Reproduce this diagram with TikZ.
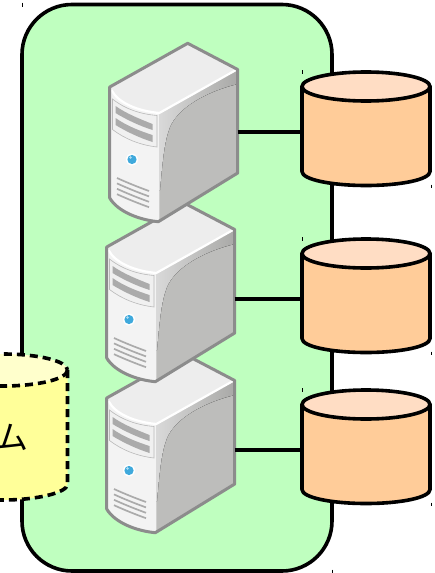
\documentclass[tikz,border=0pt]{standalone}
\usepackage{fontspec}
\newfontfamily\jpfont{Noto Sans CJK JP}
\definecolor{boxgreen}{HTML}{BFFFBF}
\definecolor{dbbody}{HTML}{FFCC99}
\definecolor{dbtop}{HTML}{FFDDC4}
\definecolor{ybody}{HTML}{FFFF99}
\definecolor{ytop}{HTML}{FFFFCC}
\definecolor{srvline}{HTML}{8C8C8C}
\definecolor{srvtop}{HTML}{EDEDED}
\definecolor{srvfront}{HTML}{F3F3F3}
\definecolor{srvside}{HTML}{BDBDBB}
\definecolor{srvband}{HTML}{A9A9A7}
\definecolor{srvbar}{HTML}{ABABAB}
\definecolor{srvpanel}{HTML}{F0F0F0}
\definecolor{led}{HTML}{3FA9DC}
\tikzset{
  x=1pt,y=-1pt,
  heavy/.style={line width=3.6pt,draw=black},
  link/.style={line width=3.4pt,draw=black},
  tinytick/.style={line width=0.7pt,draw=black},
  storebody/.style={heavy,fill=dbbody,line join=round},
  storetop/.style={heavy,fill=dbtop},
  pics/store/.style={code={
    \coordinate (-port) at (302,132);
    \path[storebody] (302,86.5) -- (302,171.5) .. controls (302,179.5) and (331,185.5) .. (366,185.5)
      .. controls (401,185.5) and (430,179.5) .. (430,171.5) -- (430,86.5) -- cycle;
    \path[storetop] (366,86.5) ellipse [x radius=64,y radius=14.5];
    \draw[tinytick] (302,70) -- (302,73.5);
    \draw[tinytick] (431,184.5) -- (431,188);
  }},
  pics/server/.style={code={
    \coordinate (-port) at (237.7,132);
    % whole silhouette
    \fill[srvfront] (109.7,88) -- (187.7,43.3) -- (237.7,70) -- (237.7,173) -- (158.3,221.7)
      .. controls (140,220) and (118,212) .. (109.7,198) -- cycle;
    % side
    \fill[srvside] (159.3,113) -- (237.7,69) -- (237.7,173) -- (159.3,221) -- cycle;
    \fill[left color=gray!30,right color=srvband] (159.3,113) -- (237.7,69) -- (237.7,84)
      .. controls (205,92) and (178,108) .. (170,127) .. controls (165,140) and (163,155) .. (160,190)
      -- (159.3,190) -- cycle;
    % top
    \fill[srvtop] (109.7,86) -- (187.7,43.3) -- (237.7,69) -- (159.3,113)
      .. controls (138,111) and (118,103) .. (109.7,86) -- cycle;
    % highlight
    \draw[white,line width=2.2pt] (111.5,90) .. controls (118,103) and (138,111) .. (159.3,113) -- (236,70);
    % bezel and slots
    \fill[srvpanel,draw=gray!55,line width=.6pt] (112.5,99) .. controls (125,109) and (140,114) .. (157,115.5)
      -- (157,147) .. controls (140,145) and (125,139) .. (112.5,129.5) -- cycle;
    \fill[srvbar] (115.5,106) .. controls (127,114) and (140,119) .. (152.5,124) -- (152.5,130) .. controls (140,126) and (127,120) .. (115.5,113) -- cycle;
    \fill[srvbar] (115.5,118) .. controls (127,126) and (140,131) .. (152.5,135) -- (152.5,142) .. controls (140,138) and (127,132) .. (115.5,125) -- cycle;
    % led
    \fill[white] (132,159.5) circle [radius=6];
    \fill[led] (132,159.5) circle [radius=4.6];
    \fill[white!60!led] (130.5,157.5) circle [radius=1.3];
    % vent
    \foreach \yy in {0,5.4,10.8,16.2} {
      \draw[srvbar,line width=1.7pt] (117,178+\yy) .. controls (128,183+\yy) and (138,187+\yy) .. (149,191+\yy);
    }
    % outline
    \draw[srvline,line width=3pt,line join=round] (109.7,87) -- (187.7,43.3) -- (237.7,69.5) -- (237.7,173) -- (158.3,221.7)
      .. controls (140,220) and (118,212) .. (109.7,198) -- cycle;
  }}
}
\begin{document}
\begin{tikzpicture}
\useasboundingbox (0,0) rectangle (435,573);
\fill[white] (0,0) rectangle (435,573);
\begin{scope}
\clip (0,0) rectangle (435,573);
\draw[heavy,fill=boxgreen,rounded corners=50pt] (22,4.5) rectangle (332,571);
\draw[tinytick] (22.3,2.5) -- (22.3,6.5);
\draw[tinytick] (332,569.5) -- (332,573);
\pic (db1) at (0,0) {store};
\pic (db2) at (0,167) {store};
\pic (db3) at (0,318) {store};
\pic (s3) at (-3,311) {server};
\pic (s2) at (-3,160) {server};
\pic (s1) at (0,0) {server};
\draw[link] (s1-port) -- (db1-port);
\draw[link] (s2-port |- db2-port) -- (db2-port);
\draw[link] (s3-port |- db3-port) -- (db3-port);
% yellow cylinder, cut by the picture's left edge
\fill[ybody] (-61,370) -- (-61,484) .. controls (-61,493) and (-30,500) .. (3,500)
  .. controls (36,500) and (67.5,493) .. (67.5,484) -- (67.5,370) -- cycle;
\fill[ytop] (3,370) ellipse [x radius=64.5,y radius=16];
\draw[heavy,dash pattern=on 8pt off 5pt] (67.5,370) -- (67.5,484) .. controls (67.5,493) and (36,500) .. (3,500) -- (-20,500);
\draw[heavy,dash pattern=on 8pt off 5pt] (3,370) ellipse [x radius=64.5,y radius=16];
\node[font=\jpfont\fontsize{33}{33}\selectfont,anchor=center,inner sep=0pt] (label) at (12,437) {ム};
\end{scope}
\end{tikzpicture}
\end{document}
